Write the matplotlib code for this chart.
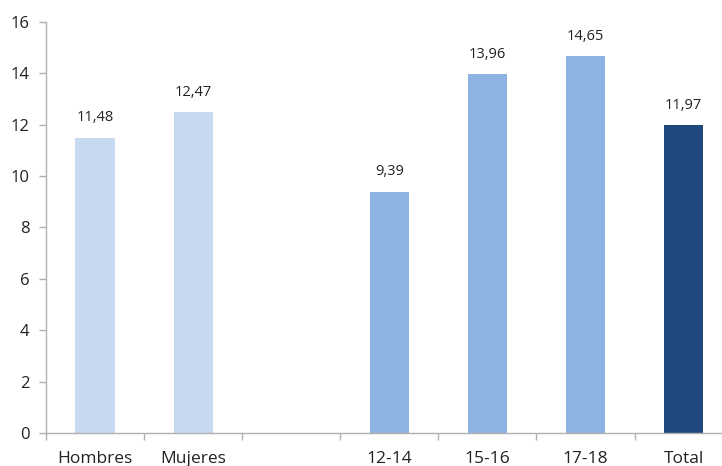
import matplotlib
matplotlib.use('Agg')
import matplotlib.pyplot as plt

categories = ['Hombres', 'Mujeres', '', '12-14', '15-16', '17-18', 'Total']
values = [11.48, 12.47, None, 9.39, 13.96, 14.65, 11.97]
labels = ['11,48', '12,47', '', '9,39', '13,96', '14,65', '11,97']
colors = ['#c6d9f1', '#c6d9f1', '#ffffff', '#8db3e2', '#8db3e2', '#8db3e2', '#1f497d']

plt.rcParams['font.family'] = ['Open Sans', 'DejaVu Sans']

fig = plt.figure(figsize=(7.22, 4.66), dpi=100)
ax = fig.add_axes([0.0637, 0.0708, 0.9511, 0.8826])

for i, (v, lab, c) in enumerate(zip(values, labels, colors)):
    if v is None:
        continue
    ax.bar(i, v, width=0.4, color=c, zorder=2)
    ax.annotate(lab, (i, v), xytext=(0, 9), textcoords='offset points',
                ha='center', va='bottom', fontsize=10.5, color='#222222')

ax.set_xlim(-0.5, 6.5)
ax.set_ylim(0, 16)
ax.set_yticks(range(0, 17, 2))
ax.tick_params(axis='y', labelsize=12, colors='#222222', length=5, width=1,
               color='#b0b0b0', pad=7)

# category labels between boundary ticks
ax.set_xticks([i - 0.5 for i in range(7)])
ax.set_xticklabels([])
ax.set_xticks(range(7), minor=True)
ax.set_xticklabels(categories, minor=True)
ax.tick_params(axis='x', which='major', length=5, width=1, color='#b0b0b0')
ax.tick_params(axis='x', which='minor', length=0, labelsize=12.5,
               labelcolor='#222222', pad=13)

for s in ['top', 'right']:
    ax.spines[s].set_visible(False)
for s in ['left', 'bottom']:
    ax.spines[s].set_color('#b0b0b0')
    ax.spines[s].set_linewidth(1)

fig.savefig('out.png', dpi=100)
